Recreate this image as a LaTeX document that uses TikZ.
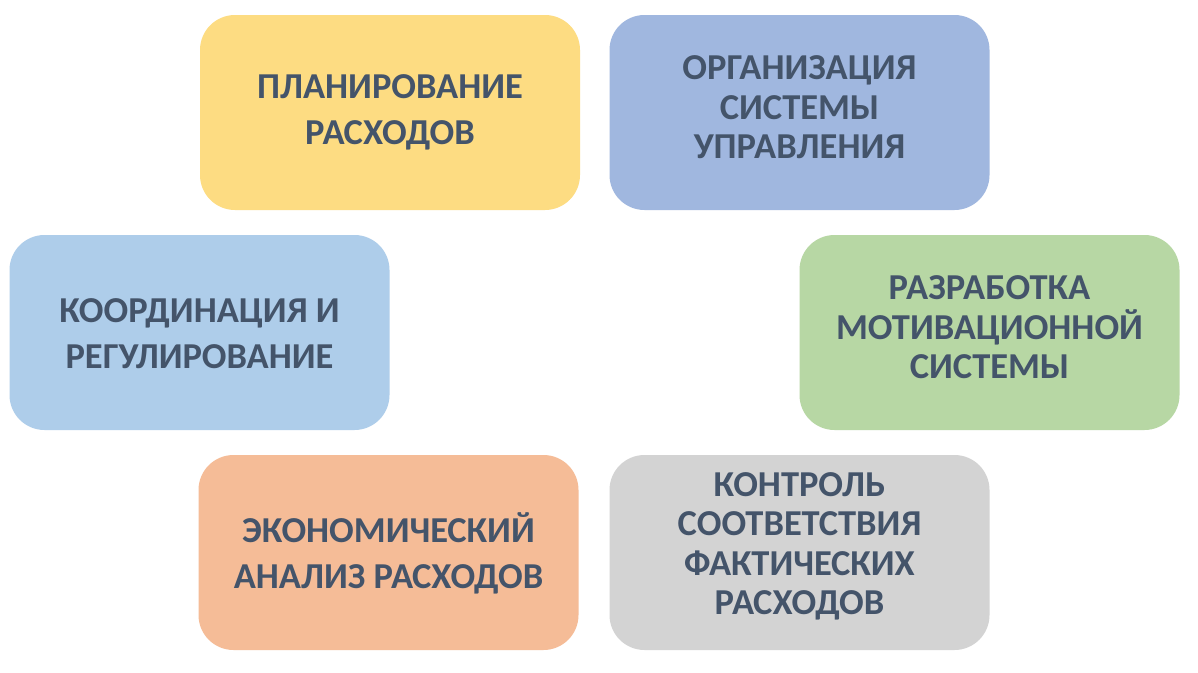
\documentclass[tikz,border=0pt]{standalone}
\usepackage{fontspec}
\setmainfont{Carlito}
\definecolor{txt}{HTML}{44546A}
\definecolor{cyellow}{HTML}{FDDC82}
\definecolor{cblue}{HTML}{A0B7DF}
\definecolor{clblue}{HTML}{AECDEA}
\definecolor{cgreen}{HTML}{B7D7A4}
\definecolor{corange}{HTML}{F5BC97}
\definecolor{cgray}{HTML}{D3D3D3}
\begin{document}
\begin{tikzpicture}[x=1pt,y=-1pt,
  card/.style={draw=none, rounded corners=35pt, minimum width=380pt, minimum height=195pt,
    inner sep=0pt},
  lbl/.style={inner sep=0pt, align=center, text=txt, font=\fontsize{36.5}{39.5}\selectfont\bfseries},
  twoline/.style={font=\fontsize{36.5}{46}\selectfont\bfseries}]
\useasboundingbox (0,0) rectangle (1198,672);
\fill[white] (0,0) rectangle (1198,672);
\node[card, fill=cyellow] (plan) at (390,112.5) {};
\node[lbl, twoline] (planT) at ([yshift=0pt]plan.center) {ПЛАНИРОВАНИЕ\\РАСХОДОВ};
\node[card, fill=cblue] (org) at (799.5,112.5) {};
\node[lbl] (orgT) at ([yshift=5pt]org.center) {ОРГАНИЗАЦИЯ\\СИСТЕМЫ\\УПРАВЛЕНИЯ};
\node[card, fill=clblue] (coord) at (199.5,332.5) {};
\node[lbl, twoline] (coordT) at ([yshift=-1pt]coord.center) {КООРДИНАЦИЯ И\\РЕГУЛИРОВАНИЕ};
\node[card, fill=cgreen] (motiv) at (989.5,332.5) {};
\node[lbl] (motivT) at ([yshift=5pt]motiv.center) {РАЗРАБОТКА\\МОТИВАЦИОННОЙ\\СИСТЕМЫ};
\node[card, fill=corange] (econ) at (388.5,552.5) {};
\node[lbl, twoline] (econT) at ([yshift=-1pt]econ.center) {ЭКОНОМИЧЕСКИЙ\\АНАЛИЗ РАСХОДОВ};
\node[card, fill=cgray] (ctrl) at (799.5,552.5) {};
\node[lbl] (ctrlT) at ([yshift=6pt]ctrl.center) {КОНТРОЛЬ\\СООТВЕТСТВИЯ\\ФАКТИЧЕСКИХ\\РАСХОДОВ};
\end{tikzpicture}
\end{document}
